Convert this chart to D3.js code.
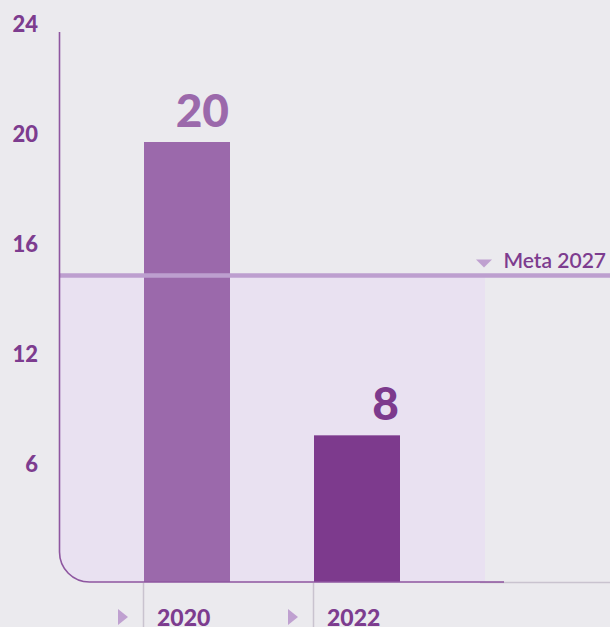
<!DOCTYPE html>
<html><head><meta charset="utf-8">
<script src="https://cdn.jsdelivr.net/npm/d3@7"></script>
<style>
html,body{margin:0;padding:0;background:#ebeaee;}
svg{display:block;font-family:Lato, "Noto Sans", sans-serif;}
</style></head>
<body><svg id="c" width="610" height="627"></svg>
<script>
// ---- data ----
const categories = ["2020", "2022"];
const values = [20, 8];
const valueLabels = ["20", "8"];
const yTickValues = [24, 20, 16, 12, 6];
const yTickLabels = ["24", "20", "16", "12", "6"];
const goalValue = 15.15;
const goalLabel = "Meta 2027";
// axis breakpoints (the reference axis is not uniformly spaced)
const yDomainStops = [0, 6, 12, 16, 20, 24];

const svg = d3.select("#c");
const textColor = "#7d3c8f";
const barColors = ["#9b69ab", "#7d3a8d"];

const yTop = 32, yBase = 582, axisX = 59.5;
const step = (yBase - yTop) / (yDomainStops.length - 1);
const y = d3.scaleLinear()
  .domain(yDomainStops)
  .range(yDomainStops.map((d, i) => yBase - i * step));

const x = d3.scaleBand().domain(categories).range([144, 484]).paddingInner(0).paddingOuter(0);
const barW = 86;
const r = 30;

// shaded goal region
const gy = y(goalValue);
const shadeRight = 485;
svg.append("path")
  .attr("d", `M${axisX},${gy} H${shadeRight} V${yBase} H${axisX + r} A${r},${r} 0 0 1 ${axisX},${yBase - r} Z`)
  .attr("fill", "#e9e1f1");

// bars
svg.selectAll("rect.bar").data(values).join("rect")
  .attr("class", "bar")
  .attr("x", (d, i) => x(categories[i]))
  .attr("width", barW)
  .attr("y", d => y(d))
  .attr("height", d => yBase - y(d))
  .attr("fill", (d, i) => barColors[i]);

// goal line
svg.append("line")
  .attr("x1", axisX).attr("x2", 610)
  .attr("y1", gy).attr("y2", gy)
  .attr("stroke", "#bd9fcf").attr("stroke-width", 4.5);

// gray baseline continuation
svg.append("line")
  .attr("x1", 480).attr("x2", 610).attr("y1", yBase + 0.5).attr("y2", yBase + 0.5)
  .attr("stroke", "#c9c3cf").attr("stroke-width", 1.5);

// axis path with rounded corner
svg.append("path")
  .attr("d", `M${axisX},${yTop} V${yBase - r} A${r},${r} 0 0 0 ${axisX + r},${yBase} H504`)
  .attr("fill", "none").attr("stroke", "#8e56a0").attr("stroke-width", 1.6);

// y tick labels
svg.selectAll("text.yt").data(yTickValues).join("text")
  .attr("class", "yt")
  .attr("x", 38).attr("y", d => y(d))
  .attr("text-anchor", "end")
  .attr("font-size", 22).attr("font-weight", 900)
  .attr("fill", textColor)
  .text((d, i) => yTickLabels[i]);

// value labels
svg.selectAll("text.vl").data(values).join("text")
  .attr("class", "vl")
  .attr("x", (d, i) => x(categories[i]) + barW - 1)
  .attr("y", d => y(d) - 15)
  .attr("text-anchor", "end")
  .attr("font-size", 46).attr("font-weight", 900)
  .attr("fill", (d, i) => barColors[i])
  .text((d, i) => valueLabels[i]);

// goal label + triangle
svg.append("text")
  .attr("x", 606).attr("y", gy - 7)
  .attr("text-anchor", "end")
  .attr("font-size", 21).attr("font-weight", 600)
  .attr("fill", textColor)
  .text(goalLabel);
svg.append("path")
  .attr("d", `M476,${gy - 16} L492,${gy - 16} L484,${gy - 8} Z`)
  .attr("fill", "#bfa0d0");

// category ticks, triangles and labels
const cat = svg.selectAll("g.cat").data(categories).join("g").attr("class", "cat");
cat.append("line")
  .attr("x1", d => x(d) - 0.5).attr("x2", d => x(d) - 0.5)
  .attr("y1", yBase + 1).attr("y2", 627)
  .attr("stroke", "#c9c3cf").attr("stroke-width", 1.5);
cat.append("path")
  .attr("d", d => `M${x(d) - 26},609 L${x(d) - 16},617 L${x(d) - 26},625 Z`)
  .attr("fill", "#bfa0d0");
cat.append("text")
  .attr("x", d => x(d) + 13).attr("y", 626)
  .attr("font-size", 23).attr("font-weight", 900)
  .attr("fill", textColor)
  .text(d => d);
</script></body></html>
